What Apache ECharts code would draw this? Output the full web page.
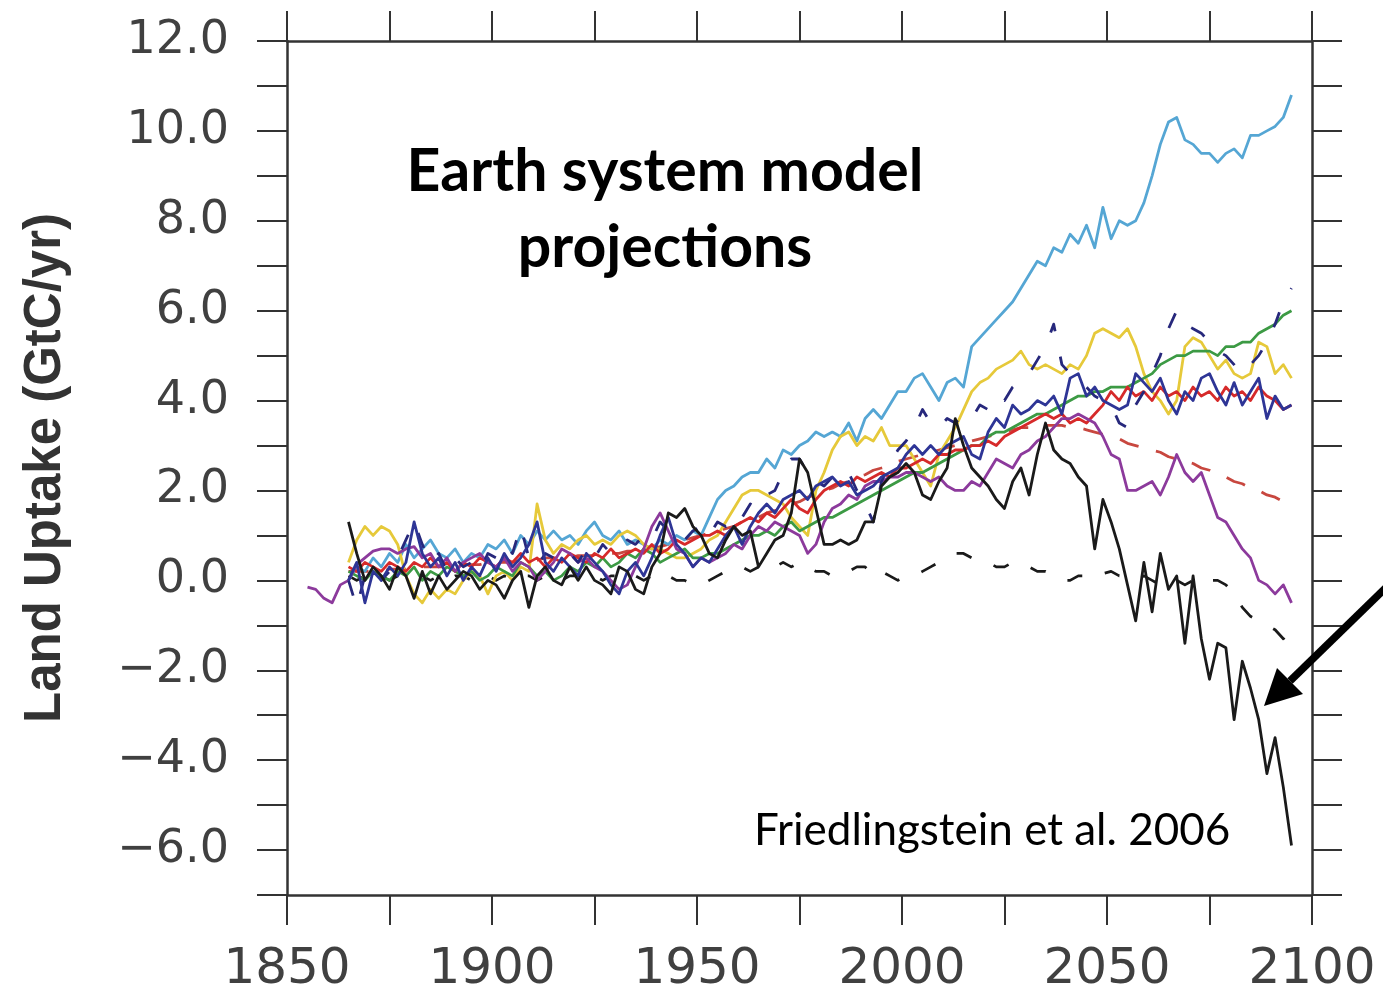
<!DOCTYPE html>
<html>
<head>
<meta charset="utf-8">
<script src="https://cdn.jsdelivr.net/npm/echarts@6/dist/echarts.min.js"></script>
<style>html,body{margin:0;padding:0;background:#fff}#c{width:1383px;height:1000px}</style>
</head>
<body>
<div id="c"></div>
<script>
// Years sampled every 2 years (rows of 10)
const years = [
  1855,1857,1859,1861,1863,1865,1867,1869,1871,1873,
  1875,1877,1879,1881,1883,1885,1887,1889,1891,1893,
  1895,1897,1899,1901,1903,1905,1907,1909,1911,1913,
  1915,1917,1919,1921,1923,1925,1927,1929,1931,1933,
  1935,1937,1939,1941,1943,1945,1947,1949,1951,1953,
  1955,1957,1959,1961,1963,1965,1967,1969,1971,1973,
  1975,1977,1979,1981,1983,1985,1987,1989,1991,1993,
  1995,1997,1999,2001,2003,2005,2007,2009,2011,2013,
  2015,2017,2019,2021,2023,2025,2027,2029,2031,2033,
  2035,2037,2039,2041,2043,2045,2047,2049,2051,2053,
  2055,2057,2059,2061,2063,2065,2067,2069,2071,2073,
  2075,2077,2079,2081,2083,2085,2087,2089,2091,2093,
  2095
];
const n = null;
const lightBlue = [
  n,n,n,n,n,0.0,0.3,0.2,0.5,0.3,
  0.6,0.4,0.8,0.5,0.7,0.9,0.6,0.5,0.7,0.4,
  0.6,0.5,0.8,0.7,0.9,0.6,1.0,0.8,1.1,0.9,
  1.1,0.9,1.0,0.8,1.1,1.3,1.0,0.9,1.1,0.8,
  0.9,0.8,0.7,0.9,0.8,1.0,0.9,1.1,1.0,1.4,
  1.8,2.0,2.1,2.3,2.4,2.4,2.7,2.5,2.9,2.8,
  3.0,3.1,3.3,3.2,3.3,3.2,3.5,3.1,3.6,3.8,
  3.6,3.9,4.2,4.2,4.5,4.6,4.3,4.0,4.4,4.5,
  4.3,5.2,5.4,5.6,5.8,6.0,6.2,6.5,6.8,7.1,
  7.0,7.4,7.3,7.7,7.5,7.9,7.4,8.3,7.6,8.0,
  7.9,8.0,8.4,9.0,9.7,10.2,10.3,9.8,9.7,9.5,
  9.5,9.3,9.5,9.6,9.4,9.9,9.9,10.0,10.1,10.3,
  10.8
];
const yellow = [
  n,n,n,n,n,0.4,0.9,1.2,1.0,1.2,
  1.1,0.8,0.1,-0.3,-0.5,-0.2,-0.4,-0.2,-0.3,0.0,
  0.2,0.1,-0.3,0.1,0.2,0.0,0.3,0.2,1.7,0.9,
  0.6,0.8,0.7,0.9,1.0,0.8,0.9,0.8,1.0,1.1,
  1.0,0.8,0.7,0.7,0.6,0.5,0.5,0.6,0.7,0.9,
  1.0,1.3,1.6,1.9,2.0,2.0,1.9,1.8,1.7,1.4,
  1.2,1.0,2.0,2.4,2.9,3.2,3.3,3.0,3.2,3.1,
  3.4,3.0,3.0,3.0,2.7,2.4,2.1,2.8,3.1,3.4,
  3.8,4.2,4.4,4.5,4.7,4.8,4.9,5.1,4.8,4.7,
  4.8,4.7,4.6,4.8,4.7,5.0,5.5,5.6,5.5,5.4,
  5.6,5.2,4.6,4.2,4.0,3.7,4.0,5.2,5.4,5.3,
  5.0,4.7,4.9,4.6,4.5,4.6,5.3,5.2,4.6,4.8,
  4.5
];
const green = [
  n,n,n,n,n,0.2,0.1,0.0,0.2,0.1,
  0.0,0.2,0.1,0.3,0.0,0.2,0.1,0.3,0.2,0.1,
  0.2,0.0,0.1,0.3,0.2,0.1,0.4,0.3,0.1,0.2,
  0.0,0.1,0.3,0.2,0.4,0.3,0.5,0.3,0.4,0.6,
  0.5,0.7,0.6,0.4,0.5,0.6,0.7,0.5,0.5,0.6,
  0.6,0.7,0.8,0.9,1.0,1.0,1.1,1.0,1.2,1.3,
  1.1,1.2,1.3,1.4,1.4,1.5,1.6,1.7,1.8,1.9,
  2.0,2.1,2.2,2.3,2.4,2.4,2.5,2.6,2.7,2.8,
  2.9,3.0,3.0,3.2,3.3,3.3,3.4,3.5,3.6,3.7,
  3.7,3.8,3.9,4.0,4.1,4.1,4.2,4.2,4.3,4.3,
  4.3,4.4,4.5,4.6,4.8,4.9,5.0,5.0,5.1,5.1,
  5.1,5.0,5.2,5.2,5.3,5.3,5.5,5.6,5.7,5.9,
  6.0
];
const red = [
  n,n,n,n,n,0.3,0.2,0.4,0.3,0.2,
  0.4,0.3,0.2,0.4,0.3,0.5,0.3,0.4,0.2,0.4,
  0.3,0.5,0.4,0.3,0.5,0.4,0.6,0.4,0.5,0.3,
  0.5,0.4,0.6,0.5,0.4,0.6,0.5,0.7,0.5,0.6,
  0.7,0.6,0.8,0.6,0.7,0.9,0.8,0.9,1.0,1.0,
  1.1,1.0,1.2,1.3,1.4,1.3,1.5,1.4,1.6,1.8,
  1.6,1.5,1.8,2.0,2.1,2.2,2.1,2.3,2.2,2.3,
  2.4,2.3,2.5,2.5,2.6,2.7,2.6,2.8,2.8,2.9,
  2.9,3.0,3.0,3.1,3.0,3.2,3.3,3.4,3.5,3.6,
  3.7,3.6,3.7,3.5,3.6,3.5,3.7,3.9,4.2,4.0,
  4.3,4.1,4.2,4.0,4.3,4.1,4.2,4.0,4.3,4.1,
  4.2,4.0,4.3,4.1,4.2,4.0,4.3,4.1,4.0,3.8,
  3.9
];
const redDashed = [
  n,n,n,n,n,0.2,0.2,0.2,0.2,0.2,
  0.25,0.25,0.25,0.3,0.3,0.3,0.3,0.3,0.35,0.35,
  0.35,0.35,0.4,0.4,0.4,0.4,0.45,0.45,0.45,0.5,
  0.5,0.5,0.5,0.55,0.55,0.55,0.6,0.6,0.6,0.65,
  0.65,0.7,0.7,0.75,0.8,0.85,0.9,0.95,1.0,1.05,
  1.1,1.15,1.2,1.3,1.35,1.4,1.5,1.55,1.6,1.7,
  1.75,1.85,1.9,2.0,2.05,2.15,2.2,2.3,2.35,2.45,
  2.5,2.55,2.65,2.7,2.75,2.8,2.85,2.9,2.95,3.0,
  3.05,3.1,3.15,3.2,3.25,3.3,3.35,3.4,3.4,3.45,
  3.45,3.45,3.45,3.4,3.4,3.35,3.3,3.25,3.2,3.15,
  3.05,3.0,2.95,2.9,2.85,2.75,2.7,2.65,2.6,2.5,
  2.45,2.35,2.3,2.2,2.15,2.05,2.0,1.9,1.85,1.75,
  1.7
];
const purple = [
  -0.15,-0.2,-0.4,-0.5,-0.1,0.0,0.35,0.5,0.65,0.7,
  0.7,0.6,0.7,0.75,0.5,0.6,0.3,0.5,0.2,0.4,
  0.5,0.6,0.4,0.3,0.5,0.2,0.4,0.3,0.0,0.2,
  0.4,0.7,0.6,0.4,0.5,0.3,0.2,0.0,-0.2,-0.1,
  0.3,0.7,1.2,1.5,1.1,0.7,0.6,0.3,0.5,0.4,
  0.5,0.6,0.8,0.7,1.0,1.2,1.1,1.3,1.2,1.1,
  1.0,0.6,0.8,1.3,1.6,1.7,1.9,1.8,2.1,2.2,
  2.2,2.3,2.3,2.4,2.4,2.3,2.2,2.3,2.1,2.0,
  2.0,2.2,2.1,2.4,2.7,2.6,2.5,2.8,2.9,3.1,
  3.2,3.4,3.6,3.6,3.7,3.6,3.5,3.2,2.8,2.7,
  2.0,2.0,2.1,2.2,1.9,2.3,2.8,2.4,2.2,2.4,
  1.9,1.4,1.3,1.0,0.7,0.5,0.0,-0.1,-0.3,-0.1,
  -0.5
];
const navyDashed = [
  n,n,n,n,n,0.0,-0.6,0.1,0.3,0.0,
  0.2,0.5,0.9,1.3,0.8,0.4,0.6,0.2,0.5,0.3,
  0.4,0.2,0.6,0.5,0.8,0.6,1.2,0.5,0.3,0.6,
  0.5,0.7,0.6,0.4,0.7,0.5,0.8,0.6,0.7,0.9,
  0.8,1.0,0.9,1.3,1.1,1.0,0.9,1.1,1.2,1.0,
  1.3,1.2,1.5,1.4,1.7,1.6,1.9,2.0,2.4,2.7,
  2.7,2.4,2.2,2.1,2.3,2.2,2.4,2.0,1.7,1.3,
  2.2,2.6,2.9,3.1,3.4,3.8,3.5,3.4,3.6,3.5,
  3.7,3.6,3.9,3.8,4.1,4.0,4.3,4.4,4.6,4.9,
  5.2,5.7,4.8,4.6,4.4,4.3,4.1,4.0,3.9,3.5,
  3.4,3.9,4.2,4.6,5.0,5.6,6.0,5.7,5.6,5.5,
  5.3,5.1,5.0,4.8,4.6,4.8,5.0,5.3,5.7,6.2,
  6.5
];
const darkBlue = [
  n,n,n,n,n,0.0,0.4,-0.5,0.2,0.0,
  0.3,0.1,0.4,1.3,0.6,0.3,0.5,0.1,0.4,0.0,
  0.3,0.1,0.5,0.2,0.6,0.3,0.5,0.8,1.3,0.4,
  0.2,0.5,0.3,0.1,0.6,0.4,0.2,-0.1,-0.3,0.2,
  0.4,0.1,0.5,1.0,1.4,0.8,0.6,0.3,0.5,0.4,
  0.7,1.0,1.2,0.8,1.2,1.5,1.7,1.5,1.8,1.9,
  2.0,1.8,2.1,2.2,2.3,2.1,2.2,1.9,2.0,2.1,
  2.3,2.4,2.5,2.8,3.0,2.8,3.0,2.8,3.0,3.1,
  3.2,2.8,2.7,3.3,3.6,3.4,3.9,3.7,3.8,4.0,
  3.9,4.1,3.7,4.5,4.6,4.1,4.3,4.0,3.9,3.8,
  3.9,4.6,4.4,4.2,4.5,4.0,3.7,4.2,4.0,4.5,
  4.6,4.2,3.9,4.4,3.9,4.2,4.5,3.6,4.1,3.8,
  3.9
];
const blackSolid = [
  n,n,n,n,n,1.3,0.6,0.0,0.3,0.1,
  -0.2,0.3,0.1,-0.4,0.2,-0.3,0.1,-0.2,0.0,0.2,
  0.1,-0.2,0.0,-0.1,-0.4,0.0,0.2,-0.6,0.1,0.3,
  0.0,-0.1,0.3,0.0,0.3,0.0,-0.1,-0.3,0.3,0.2,
  -0.2,-0.3,0.3,0.6,1.5,1.4,1.6,1.2,1.0,0.6,
  0.5,0.9,1.2,1.0,1.1,0.3,0.6,0.9,1.0,1.5,
  2.7,2.4,1.6,0.8,0.8,0.9,0.8,0.9,1.3,1.3,
  2.1,2.3,2.4,2.6,2.4,1.9,1.8,2.2,2.5,3.6,
  3.0,2.5,2.3,2.1,1.8,1.6,2.2,2.5,1.9,2.8,
  3.5,2.9,2.7,2.6,2.3,2.1,0.7,1.8,1.3,0.7,
  -0.1,-0.9,0.4,-0.7,0.6,-0.2,0.1,-1.4,0.1,-1.3,
  -2.2,-1.4,-1.5,-3.1,-1.8,-2.4,-3.1,-4.3,-3.5,-4.6,
  -5.9
];
const blackDashed = [
  n,n,n,n,n,0.1,0.0,0.1,0.0,0.1,
  0.0,0.1,0.0,0.1,0.1,0.0,0.1,0.0,0.1,0.1,
  0.0,0.1,0.1,0.0,0.1,0.0,0.1,0.1,0.0,0.1,
  0.1,0.0,0.1,0.1,0.0,0.1,0.0,0.1,0.1,0.0,
  0.1,0.0,0.1,0.0,0.1,0.0,0.0,-0.1,-0.1,0.0,
  0.1,0.2,0.3,0.3,0.2,0.3,0.2,0.3,0.4,0.3,
  0.4,0.3,0.2,0.2,0.1,0.1,0.2,0.3,0.3,0.1,
  0.2,0.1,0.0,0.1,0.1,0.2,0.3,0.4,0.5,0.6,
  0.6,0.5,0.4,0.4,0.3,0.3,0.4,0.3,0.3,0.2,
  0.2,0.1,0.0,0.0,0.1,0.1,0.2,0.15,0.2,0.1,
  0.1,0.0,0.1,0.0,-0.1,0.0,0.0,-0.1,0.0,0.1,
  0.0,0.0,-0.1,-0.3,-0.6,-0.8,-0.9,-1.0,-1.1,-1.3,
  -1.1
];

const pairs = vals => years.map((y, i) => [y, vals[i]]);

function mk(name, vals, color, type, w) {
  return {
    name, type: 'line', data: pairs(vals), showSymbol: false, symbol: 'none',
    connectNulls: false, clip: true,
    lineStyle: { color, width: w || 2.8, type: type || 'solid', cap: 'butt', join: 'round' },
    itemStyle: { color }, emphasis: { disabled: true }
  };
}

const axisCol = '#333';
const labelCol = '#404040';
const chart = echarts.init(document.getElementById('c'), null, { renderer: 'canvas' });
chart.setOption({
  animation: false,
  backgroundColor: '#fff',
  title: [
    { text: 'Earth system model\nprojections', left: 660, top: 129, textAlign: 'center',
      textStyle: { fontFamily: 'Lato', fontWeight: 'bold', fontSize: 59, lineHeight: 76, color: '#000' } },
    { text: 'Friedlingstein et al. 2006', left: 749, top: 804,
      textStyle: { fontFamily: 'Lato', fontWeight: 'normal', fontSize: 44, color: '#000' } }
  ],
  grid: { left: 287, right: 71, top: 41, bottom: 105, containLabel: false, outerBoundsMode: 'none' },
  xAxis: [
    { type: 'value', min: 1850, max: 2100, interval: 25, position: 'bottom',
      axisLine: { show: true, onZero: false, lineStyle: { color: axisCol, width: 2.5 } },
      axisTick: { show: true, length: 30, lineStyle: { color: axisCol, width: 2 } },
      splitLine: { show: false },
      axisLabel: { margin: 50, fontFamily: 'DejaVu Sans', fontSize: 50, color: labelCol,
        formatter: v => (v % 50 === 0 ? String(v) : '') } },
    { type: 'value', min: 1850, max: 2100, interval: 25, position: 'top',
      axisLine: { show: true, onZero: false, lineStyle: { color: axisCol, width: 2.5 } },
      axisTick: { show: true, length: 30, lineStyle: { color: axisCol, width: 2 } },
      splitLine: { show: false }, axisLabel: { show: false } }
  ],
  yAxis: [
    { type: 'value', min: -7, max: 12, interval: 1, position: 'left',
      name: 'Land Uptake (GtC/yr)', nameLocation: 'middle', nameGap: 216, nameRotate: 90,
      nameTextStyle: { fontFamily: 'Liberation Sans', fontWeight: 'bold', fontSize: 51, color: '#333' },
      axisLine: { show: true, onZero: false, lineStyle: { color: axisCol, width: 2.5 } },
      axisTick: { show: true, length: 30, lineStyle: { color: axisCol, width: 2 } },
      splitLine: { show: false },
      axisLabel: { margin: 58, fontFamily: 'DejaVu Sans', fontSize: 46, color: labelCol,
        formatter: v => (Math.round(v) % 2 === 0 ? (v < 0 ? '\u2212' : '') + Math.abs(v).toFixed(1) : '') } },
    { type: 'value', min: -7, max: 12, interval: 1, position: 'right',
      axisLine: { show: true, onZero: false, lineStyle: { color: axisCol, width: 2.5 } },
      axisTick: { show: true, length: 30, lineStyle: { color: axisCol, width: 2 } },
      splitLine: { show: false }, axisLabel: { show: false } }
  ],
  series: [
    mk('blackDashed', blackDashed, '#1a1a1a', [16, 24]),
    mk('redDashed', redDashed, '#c8473f', [20, 18]),
    mk('lightBlue', lightBlue, '#55a6d4'),
    mk('yellow', yellow, '#e6c93a'),
    mk('green', green, '#3c9a44'),
    mk('red', red, '#d62a2a'),
    mk('purple', purple, '#8c3a9c'),
    mk('navyDashed', navyDashed, '#27287c', [16, 26]),
    mk('darkBlue', darkBlue, '#2e3596'),
    mk('blackSolid', blackSolid, '#1a1a1a')
  ],
  graphic: [
    { type: 'line', silent: true, z: 100,
      shape: { x1: 1290, y1: 681, x2: 1400, y2: 574 },
      style: { stroke: '#000', lineWidth: 7.5 } },
    { type: 'polygon', silent: true, z: 100,
      shape: { points: [[1264, 706], [1277, 668], [1303, 694]] },
      style: { fill: '#000' } }
  ]
});
</script>
</body>
</html>
